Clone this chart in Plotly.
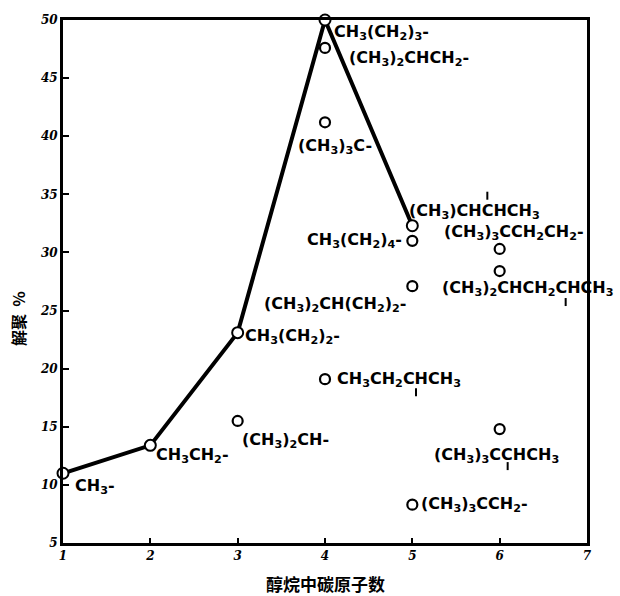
import plotly.graph_objects as go

# ---- data ----
n_alkyl_carbons = [1, 2, 3, 4, 5]
n_alkyl_yield = [11.0, 13.4, 23.1, 50.0, 32.3]
n_alkyl_names = ["CH<sub>3</sub>-", "CH<sub>3</sub>CH<sub>2</sub>-", "CH<sub>3</sub>(CH<sub>2</sub>)<sub>2</sub>-",
                 "CH<sub>3</sub>(CH<sub>2</sub>)<sub>3</sub>-", "(CH<sub>3</sub>)CHCHCH<sub>3</sub>"]

branched_carbons = [4, 4, 5, 5, 6, 6, 4, 3, 6, 5]
branched_yield = [47.6, 41.2, 31.0, 27.1, 30.3, 28.4, 19.1, 15.5, 14.8, 8.3]
branched_names = ["(CH<sub>3</sub>)<sub>2</sub>CHCH<sub>2</sub>-", "(CH<sub>3</sub>)<sub>3</sub>C-",
                  "CH<sub>3</sub>(CH<sub>2</sub>)<sub>4</sub>-", "(CH<sub>3</sub>)<sub>2</sub>CH(CH<sub>2</sub>)<sub>2</sub>-",
                  "(CH<sub>3</sub>)<sub>3</sub>CCH<sub>2</sub>CH<sub>2</sub>-", "(CH<sub>3</sub>)<sub>2</sub>CHCH<sub>2</sub>CHCH<sub>3</sub>",
                  "CH<sub>3</sub>CH<sub>2</sub>CHCH<sub>3</sub>", "(CH<sub>3</sub>)<sub>2</sub>CH-",
                  "(CH<sub>3</sub>)<sub>3</sub>CCHCH<sub>3</sub>", "(CH<sub>3</sub>)<sub>3</sub>CCH<sub>2</sub>-"]

x_ticks = [1, 2, 3, 4, 5, 6, 7]
y_ticks = [5, 10, 15, 20, 25, 30, 35, 40, 45, 50]
x_title = "醇烷中碳原子数"
y_title = "解聚  %"

# ---- label placement (pixel offsets: xshift, yshift, xanchor) ----
n_offsets = [(10, -13, "left"), (4, -10, "left"), (5, -4, "left"), (7, -12, "left"), (-5, 14, "left")]
b_offsets = [(22, -11, "left"), (10, -24, "center"), (-8, 0, "right"), (-4, -18, "right"),
             (14, 16, "center"), (-60, -17, "left"), (10, 0, "left"), (2, -20, "left"),
             (-3, -26, "center"), (7, 0, "left")]
# branch bars (series, idx, pixel x offset, pixel y offset of bar centre, upward positive)
bars = [("n", 4, 75, 30), ("b", 5, 66, -31), ("b", 6, 91, -13), ("b", 8, 8, -37)]

label_font = dict(family="DejaVu Sans", size=16, color="black", weight="bold")

fig = go.Figure()
fig.add_trace(go.Scatter(
    x=n_alkyl_carbons, y=n_alkyl_yield, mode="lines+markers",
    line=dict(color="black", width=4),
    marker=dict(symbol="circle", size=11, color="white", line=dict(color="black", width=2)),
    showlegend=False, cliponaxis=False))
fig.add_trace(go.Scatter(
    x=branched_carbons, y=branched_yield, mode="markers",
    marker=dict(symbol="circle", size=10, color="white", line=dict(color="black", width=2.2)),
    showlegend=False, cliponaxis=False))

ann = []
for x, y, t, (dx, dy, xa) in zip(n_alkyl_carbons, n_alkyl_yield, n_alkyl_names, n_offsets):
    ann.append(dict(x=x, y=y, text=t, showarrow=False, xshift=dx, yshift=dy, xanchor=xa,
                    yanchor="middle", font=label_font))
for x, y, t, (dx, dy, xa) in zip(branched_carbons, branched_yield, branched_names, b_offsets):
    ann.append(dict(x=x, y=y, text=t, showarrow=False, xshift=dx, yshift=dy, xanchor=xa,
                    yanchor="middle", font=label_font))

shapes = []
for s, i, dx, dy in bars:
    xs, ys = (n_alkyl_carbons, n_alkyl_yield) if s == "n" else (branched_carbons, branched_yield)
    shapes.append(dict(type="line", xref="x", yref="y", xsizemode="pixel", ysizemode="pixel",
                       xanchor=xs[i], yanchor=ys[i], x0=dx, x1=dx, y0=dy - 4, y1=dy + 4,
                       line=dict(color="black", width=2)))

ann.append(dict(xref="paper", yref="paper", x=0.5, y=-0.077, text=x_title, showarrow=False,
                yanchor="middle", xanchor="center",
                font=dict(family="Noto Sans CJK SC", size=17, color="black", weight="bold")))
ann.append(dict(xref="paper", yref="paper", x=-0.086, y=0.43, text=y_title, showarrow=False,
                textangle=-90, xanchor="center", yanchor="middle",
                font=dict(family="Noto Sans CJK SC", size=16, color="black", weight="bold")))

tick_font = dict(family="DejaVu Serif", size=12, color="black", weight="bold", style="italic")
fig.update_layout(
    width=620, height=596, margin=dict(l=63, r=33, t=20, b=53),
    paper_bgcolor="white", plot_bgcolor="white",
    annotations=ann, shapes=shapes,
    xaxis=dict(range=[1, 7], tickvals=x_ticks, ticktext=[str(v) for v in x_ticks],
               showgrid=False, zeroline=False, showline=True, linecolor="black", linewidth=3,
               mirror=True, ticks="inside", ticklen=5, tickwidth=2, tickcolor="black",
               tickfont=tick_font),
    yaxis=dict(range=[5, 50], tickvals=y_ticks, ticktext=[str(v) for v in y_ticks],
               showgrid=False, zeroline=False, showline=True, linecolor="black", linewidth=3,
               mirror=True, ticks="inside", ticklen=6, tickwidth=2, tickcolor="black",
               tickfont=tick_font),
)
fig.write_html("out.html", config={"displayModeBar": False},
               post_script="document.body.style.margin='0';document.body.style.overflow='hidden';")
